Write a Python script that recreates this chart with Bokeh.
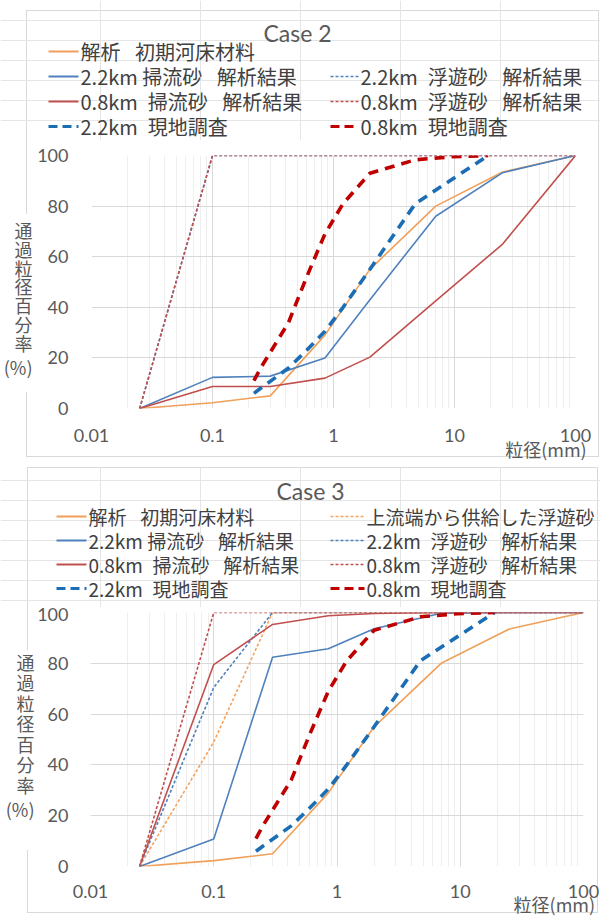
import json
from bokeh.plotting import figure
from bokeh.models import (Range1d, FixedTicker, CustomJSTickFormatter, LinearAxis)
from bokeh.layouts import column, row
from bokeh.core.properties import value
from bokeh.embed import file_html
from bokeh.resources import INLINE

# ---------------- data ----------------
x_bed = [0.025, 0.1, 0.3, 0.85, 2, 7, 25, 100]             # grain classes (mm)
bed_initial = [0, 2.3, 5, 29, 55, 80, 93.5, 100]          # 解析 初期河床材料

# Case 2
c2_bed22 = [0, 12.3, 12.8, 20, 43, 76, 93.2, 100]          # 2.2km 掃流砂
c2_bed08 = [0, 8.7, 8.7, 12, 20.3, 42.5, 65, 100]          # 0.8km 掃流砂
c2_x_susp = [0.025, 0.1, 100]
c2_susp22 = [0, 100, 100]                                  # 2.2km 浮遊砂
c2_susp08 = [0, 100, 100]                                  # 0.8km 浮遊砂

# Case 3
c3_bed22 = [0, 10.8, 82.4, 85.7, 93.6, 99.7, 100, 100]
c3_bed08 = [0, 79.5, 95.3, 98.7, 99.6, 100, 100, 100]
c3_x_susp22 = [0.025, 0.1, 0.3, 100]
c3_susp22 = [0, 70.5, 100, 100]
c3_x_susp08 = [0.025, 0.1, 100]
c3_susp08 = [0, 100, 100]
c3_x_supply = [0.025, 0.1, 0.3, 100]
c3_supply = [0, 49, 100, 100]                              # 上流端から供給した浮遊砂

# field survey (現地調査)
x_field = [0.22, 0.25, 0.425, 0.6, 0.85, 1.2, 2, 4.75, 9.5, 19]
field22 = [6, 8, 16, 23, 30.5, 40, 55, 81, 90.5, 100]
field08 = [11, 16, 34, 52, 69, 81, 93, 98.3, 99.5, 100]

x_ticks = [0.01, 0.1, 1, 10, 100]
y_ticks = [0, 20, 40, 60, 80, 100]
y_title = list("通過粒径百分率") + ["(%)"]
x_title = "粒径(mm)"

# ---------------- styles ----------------
CJK = "Noto Sans CJK JP"
TXT = "#595959"
LEG_TXT = "#404040"
C_OR = "#F1A05A"
C_OR_D = "#F5A25E"
C_BL = "#4F81BD"
C_RD = "#C0504D"
C_BL_F = "#1C6EB4"
C_RD_F = "#C00000"
SOLID_W = 1.6
THIN_DASH = "3 2"
THICK_DASH = "10 7"
THICK_W = 3.6
GRID = "#d9d9d9"
SP1 = "\u2002 "
SP2 = "\u2002"

STYLE = {
    "solid": (2, "solid"),
    "thin": (1.5, THIN_DASH),
    "thick": (3, "9 5"),
}


def border_css(x0, x1, y0, y1, gap):
    g0, g1 = gap
    segs = [(x1 - x0, 1, x0, y0), (x1 - x0 + 1, 1, x0, y1), (1, y1 - y0, x1, y0),
            (1, g0 - y0, x0, y0), (1, y1 - g1, x0, g1)]
    img = ",".join(["linear-gradient(%s,%s)" % (GRID, GRID)] * len(segs))
    return {"background-color": "white", "background-image": img,
            "background-size": ",".join("%dpx %dpx" % (w, h) for (w, h, _, _) in segs),
            "background-position": ",".join("%dpx %dpx" % (x, y) for (_, _, x, y) in segs),
            "background-repeat": "no-repeat"}


def blank_fig(height, top):
    # a strip whose data coordinates are page pixels (y grows downwards)
    f = figure(width=600, height=height, x_range=Range1d(0, 600),
               y_range=Range1d(top + height, top),
               output_backend="svg", toolbar_location=None,
               x_axis_location=None, y_axis_location=None, min_border=0)
    f.title.visible = False
    f.outline_line_color = None
    f.background_fill_alpha = 0
    f.border_fill_alpha = 0
    return f


def header(height, top, title, title_x, title_y, rows, lcol, rcol, size):
    h = blank_fig(height, top)
    h.text(x=[title_x], y=[title_y], text=[title], text_font=value("Lato"),
           text_font_size="23px", text_color=TXT, text_align="center",
           text_baseline="middle")
    for (cy, col, label, color, kind) in rows:
        x0, x1 = lcol if col == 0 else rcol
        w, dash = STYLE[kind]
        h.segment(x0=[x0], y0=[cy], x1=[x1], y1=[cy], line_color=color,
                  line_width=w, line_dash=dash)
        h.text(x=[x1 + 2], y=[cy], text=[label], text_font=value(CJK),
               text_font_size=size, text_color=LEG_TXT, text_align="left",
               text_baseline="middle")
    return h


def plain_axis(ax):
    ax.axis_line_color = None
    ax.major_tick_line_color = None
    ax.minor_tick_line_color = None
    ax.major_tick_out = 0
    ax.minor_tick_out = 0
    ax.major_tick_in = 0
    ax.minor_tick_in = 0


def main_fig(height, top, borders, series, ystand, xstand, ytitle_pos,
             ytitle_standoff, xtitle_x, xtitle_standoff):
    bl, br, bt, bb = borders
    p = figure(width=600, height=height, x_axis_type="log",
               x_range=Range1d(0.01, 100), y_range=Range1d(0, 100),
               output_backend="svg", toolbar_location=None,
               min_border_left=bl, min_border_right=br,
               min_border_top=bt, min_border_bottom=bb)
    p.title.visible = False
    p.outline_line_color = None
    p.background_fill_color = "white"
    p.border_fill_alpha = 0

    minor = [m * 10.0 ** e for e in range(-2, 2) for m in range(2, 10)]
    xa = p.xaxis[0]
    ya = p.yaxis[0]
    xa.ticker = FixedTicker(ticks=x_ticks, minor_ticks=minor)
    ya.ticker = FixedTicker(ticks=y_ticks)
    xa.formatter = CustomJSTickFormatter(code="return tick.toString();")
    for ax in (xa, ya):
        plain_axis(ax)
        ax.major_label_text_font = "Lato"
        ax.major_label_text_font_size = "18px"
        ax.major_label_text_color = TXT
    ya.major_label_standoff = ystand
    xa.major_label_standoff = xstand

    # page-pixel ranges spanning the frame, used to place the axis titles
    fl, fr = bl, 600 - br
    frame_top = top + bt
    frame_bot = top + height - bb
    p.extra_y_ranges = {"ttl": Range1d(frame_bot, frame_top)}
    p.extra_x_ranges = {"ttlx": Range1d(fl, fr)}

    # stacked y title as a second left axis
    mapping = {str(int(v)): t for v, t in zip(ytitle_pos, y_title)}
    tax = LinearAxis(y_range_name="ttl",
                     ticker=FixedTicker(ticks=[int(v) for v in ytitle_pos]),
                     formatter=CustomJSTickFormatter(
                         code="const m = %s; return m[String(tick)] || '';" % json.dumps(mapping)))
    plain_axis(tax)
    tax.major_label_text_font = CJK
    tax.major_label_text_font_size = "18px"
    tax.major_label_text_color = TXT
    tax.major_label_standoff = ytitle_standoff
    p.add_layout(tax, "left")

    # x title at the right end as a second bottom axis
    xtax = LinearAxis(x_range_name="ttlx", ticker=FixedTicker(ticks=[xtitle_x]),
                      formatter=CustomJSTickFormatter(
                          code="return %s;" % json.dumps(x_title)))
    plain_axis(xtax)
    xtax.major_label_text_font = CJK
    xtax.major_label_text_font_size = "18px"
    xtax.major_label_text_color = TXT
    xtax.major_label_standoff = xtitle_standoff
    p.add_layout(xtax, "below")

    p.xgrid.grid_line_color = GRID
    p.xgrid.minor_grid_line_color = "#eeeeee"
    p.ygrid.grid_line_color = GRID

    for (xs, ys, color, width_, dash) in series:
        p.line(xs, ys, line_color=color, line_width=width_, line_dash=dash)
    return p


# ---------------- Case 2 ----------------
series2 = [
    (x_bed, bed_initial, C_OR, SOLID_W, "solid"),
    (x_bed, c2_bed22, C_BL, SOLID_W, "solid"),
    (c2_x_susp, c2_susp22, C_BL, SOLID_W, THIN_DASH),
    (x_bed, c2_bed08, C_RD, SOLID_W, "solid"),
    (c2_x_susp, c2_susp08, C_RD, SOLID_W, THIN_DASH),
    (x_field, field22, C_BL_F, THICK_W, THICK_DASH),
    (x_field, field08, C_RD_F, THICK_W, THICK_DASH),
]
rows2 = [
    (51, 0, "解析" + SP1 + "初期河床材料", C_OR, "solid"),
    (76, 0, "2.2km 掃流砂" + SP1 + "解析結果", C_BL, "solid"),
    (101, 0, "0.8km" + SP2 + "掃流砂" + SP1 + "解析結果", C_RD, "solid"),
    (126, 0, "2.2km" + SP2 + "現地調査", C_BL_F, "thick"),
    (76, 1, "2.2km" + SP2 + "浮遊砂" + SP1 + "解析結果", C_BL, "thin"),
    (101, 1, "0.8km" + SP2 + "浮遊砂" + SP1 + "解析結果", C_RD, "thin"),
    (126, 1, "0.8km" + SP2 + "現地調査", C_RD_F, "thick"),
]
HH1, HM1 = 140, 327
h1 = header(HH1, 0, "Case 2", 297, 32, rows2, (48, 78), (330, 358), "20px")
m1 = main_fig(HM1, HH1, (86, 25, 15, HH1 + HM1 - 408), series2, 23, 20,
              [229, 248, 267, 285, 304, 323, 342, 366], 2, 512, -9)
panel1 = column(h1, row(m1, spacing=0), spacing=0,
                styles=border_css(26, 598, 10, 456, (214, 392)))

# ---------------- Case 3 ----------------
series3 = [
    (x_bed, bed_initial, C_OR, SOLID_W, "solid"),
    (c3_x_supply, c3_supply, C_OR_D, SOLID_W, THIN_DASH),
    (x_bed, c3_bed22, C_BL, SOLID_W, "solid"),
    (c3_x_susp22, c3_susp22, C_BL, SOLID_W, THIN_DASH),
    (x_bed, c3_bed08, C_RD, SOLID_W, "solid"),
    (c3_x_susp08, c3_susp08, C_RD, SOLID_W, THIN_DASH),
    (x_field, field22, C_BL_F, THICK_W, THICK_DASH),
    (x_field, field08, C_RD_F, THICK_W, THICK_DASH),
]
rows3 = [
    (516, 0, "解析" + SP1 + "初期河床材料", C_OR, "solid"),
    (540, 0, "2.2km 掃流砂" + SP1 + "解析結果", C_BL, "solid"),
    (564, 0, "0.8km" + SP2 + "掃流砂" + SP1 + "解析結果", C_RD, "solid"),
    (588, 0, "2.2km" + SP2 + "現地調査", C_BL_F, "thick"),
    (516, 1, "上流端から供給した浮遊砂", C_OR_D, "thin"),
    (540, 1, "2.2km" + SP2 + "浮遊砂" + SP1 + "解析結果", C_BL, "thin"),
    (564, 1, "0.8km" + SP2 + "浮遊砂" + SP1 + "解析結果", C_RD, "thin"),
    (588, 1, "0.8km" + SP2 + "現地調査", C_RD_F, "thick"),
]
TOP2 = HH1 + HM1
HH2 = 140
HM2 = 922 - TOP2 - HH2
h2 = header(HH2, TOP2, "Case 3", 310, 490, rows3, (56, 86), (330, 364), "19px")
m2 = main_fig(HM2, TOP2 + HH2, (90, 17, 612 - TOP2 - HH2, TOP2 + HH2 + HM2 - 866),
              series3, 22, 18, [661, 681, 702, 722, 743, 763, 784, 808], 0,
              522, -10)
panel2 = column(h2, row(m2, spacing=0), spacing=0,
                styles=border_css(27, 597, 0, 445, (183, 383)))

layout = column(panel1, panel2, spacing=0)
open("out.html", "w").write(file_html(layout, INLINE))
